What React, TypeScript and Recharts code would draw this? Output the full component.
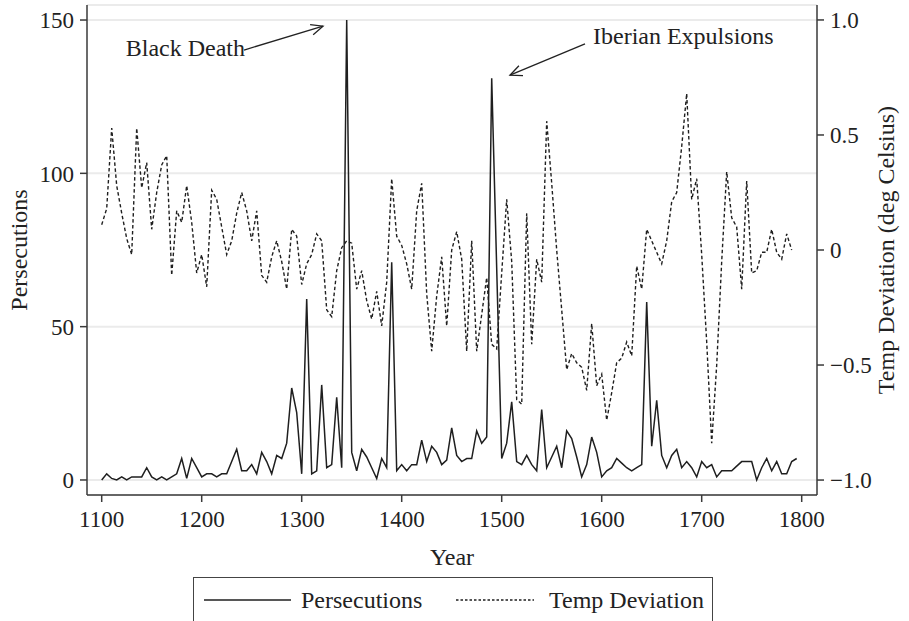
import { CartesianGrid, Line, LineChart, ReferenceLine, XAxis, YAxis } from "recharts";

const YEARS = [
  1100, 1105, 1110, 1115, 1120, 1125, 1130, 1135, 1140, 1145,
  1150, 1155, 1160, 1165, 1170, 1175, 1180, 1185, 1190, 1195,
  1200, 1205, 1210, 1215, 1220, 1225, 1230, 1235, 1240, 1245,
  1250, 1255, 1260, 1265, 1270, 1275, 1280, 1285, 1290, 1295,
  1300, 1305, 1310, 1315, 1320, 1325, 1330, 1335, 1340, 1345,
  1350, 1355, 1360, 1365, 1370, 1375, 1380, 1385, 1390, 1395,
  1400, 1405, 1410, 1415, 1420, 1425, 1430, 1435, 1440, 1445,
  1450, 1455, 1460, 1465, 1470, 1475, 1480, 1485, 1490, 1495,
  1500, 1505, 1510, 1515, 1520, 1525, 1530, 1535, 1540, 1545,
  1550, 1555, 1560, 1565, 1570, 1575, 1580, 1585, 1590, 1595,
  1600, 1605, 1610, 1615, 1620, 1625, 1630, 1635, 1640, 1645,
  1650, 1655, 1660, 1665, 1670, 1675, 1680, 1685, 1690, 1695,
  1700, 1705, 1710, 1715, 1720, 1725, 1730, 1735, 1740, 1745,
  1750, 1755, 1760, 1765, 1770, 1775, 1780, 1785, 1790, 1795,
  1800,
];

const PERSECUTIONS = [
  0, 2, 0.5, 0, 1, 0, 1, 1, 1, 4,
  1, 0, 1, 0, 1, 2, 7, 0.5, 7, 4,
  1, 2, 2, 1, 2, 2, 6, 10, 3, 3,
  5, 2, 9, 6, 2, 8, 7, 12, 30, 22,
  2, 59, 2, 3, 31, 4, 5, 27, 4, 150,
  9, 3, 10, 7.5, 4, 0.5, 7, 4, 71, 3,
  5, 3, 5, 5, 13, 6, 11, 9, 5, 6.5,
  17, 8, 6, 7, 7, 16, 12, 14, 131, 69,
  7, 12, 25.5, 6, 5, 8, 5, 3, 23, 4,
  7.5, 11, 4, 16, 13.5, 7.5, 1, 5, 14, 9,
  1, 3, 4, 7, 5.5, 4, 3, 4, 5, 58,
  11, 26, 8, 4, 8, 10, 4, 6, 4, 1,
  6, 4, 5, 1, 3, 3, 3, 4.5, 6, 6,
  6, 0, 4, 7, 3, 6, 2, 2, 6, 7,
  null,
];

const TEMP_DEV = [
  0.11, 0.18, 0.53, 0.28, 0.16, 0.05, -0.02, 0.53, 0.27, 0.38,
  0.09, 0.25, 0.37, 0.41, -0.11, 0.17, 0.12, 0.28, 0.12, -0.1,
  -0.02, -0.16, 0.26, 0.22, 0.1, -0.02, 0.04, 0.16, 0.25, 0.17,
  0.04, 0.17, -0.11, -0.14, -0.03, 0.04, -0.05, -0.17, 0.09, 0.06,
  -0.15, -0.06, -0.02, 0.07, 0.04, -0.26, -0.29, -0.09, 0.01, 0.04,
  0.03, -0.17, -0.09, -0.22, -0.3, -0.18, -0.33, -0.14, 0.31, 0.06,
  0.02, -0.06, -0.17, 0.17, 0.29, -0.19, -0.44, -0.2, -0.03, -0.33,
  0.0, 0.08, -0.04, -0.44, 0.04, -0.44, -0.28, -0.12, -0.41, -0.43,
  -0.1, 0.22, -0.05, -0.65, -0.67, 0.16, -0.41, -0.04, -0.14, 0.56,
  0.29, 0.0, -0.26, -0.52, -0.45, -0.49, -0.51, -0.61, -0.32, -0.59,
  -0.54, -0.74, -0.62, -0.49, -0.47, -0.4, -0.46, -0.07, -0.17, 0.09,
  0.04, -0.01, -0.06, 0.04, 0.21, 0.25, 0.45, 0.68, 0.22, 0.31,
  -0.02, -0.4, -0.84, -0.5, -0.05, 0.34, 0.14, 0.1, -0.17, 0.3,
  -0.1, -0.09, -0.01, -0.01, 0.09, -0.01, -0.04, 0.07, 0.0, null,
  null,
];

const YEAR_TICKS = [1100, 1200, 1300, 1400, 1500, 1600, 1700, 1800];
const PERSECUTION_TICKS = [0, 50, 100, 150];
const TEMP_TICKS = [-1, -0.5, 0, 0.5, 1];

// annotation arrows, in data units (year, persecutions)
const BLACK_DEATH = [
  { x: 1242.3, y: 140.2 },
  { x: 1321.3, y: 148 },
];
const IBERIAN = [
  { x: 1583.3, y: 142.2 },
  { x: 1508.3, y: 132 },
];

const data = YEARS.map((year, i) => ({
  year,
  persecutions: PERSECUTIONS[i],
  temp: TEMP_DEV[i],
}));

const INK = "#222";
const FONT = "'Liberation Serif', 'Times New Roman', serif";
const TITLE_SIZE = 24;
const TICK_SIZE = 23;

const fmtTemp = (v: number) => {
  if (v === 0) return "0";
  const s = Math.abs(v).toFixed(1);
  return v < 0 ? `\u2212${s}` : s;
};

function arrowShape(label: string, side: "left" | "right") {
  return (props: any) => {
    const { x1, y1, x2, y2 } = props;
    const ang = Math.atan2(y2 - y1, x2 - x1);
    const len = 13;
    const spread = 0.42;
    const h1x = x2 - len * Math.cos(ang - spread);
    const h1y = y2 - len * Math.sin(ang - spread);
    const h2x = x2 - len * Math.cos(ang + spread);
    const h2y = y2 - len * Math.sin(ang + spread);
    return (
      <g>
        <line x1={x1} y1={y1} x2={x2} y2={y2} stroke={INK} strokeWidth={1.3} />
        <polyline
          points={`${h1x},${h1y} ${x2},${y2} ${h2x},${h2y}`}
          fill="none"
          stroke={INK}
          strokeWidth={1.3}
        />
        {side === "left" ? (
          <text x={x1 + 1} y={y1 + 6} textAnchor="end" fill={INK} fontSize={TITLE_SIZE} fontFamily={FONT}>
            {label}
          </text>
        ) : (
          <text x={x1 + 8} y={y1} textAnchor="start" fill={INK} fontSize={TITLE_SIZE} fontFamily={FONT}>
            {label}
          </text>
        )}
      </g>
    );
  };
}

export default function App() {
  const tickStyle = { fill: INK, fontSize: TICK_SIZE, fontFamily: FONT };
  const axisLine = { stroke: "#3a3a3a", strokeWidth: 1.5 };

  return (
    <div style={{ position: "absolute", left: 0, top: 0, width: 909, height: 621, background: "#fff", fontFamily: FONT }}>
      <LineChart
        width={909}
        height={621}
        data={data}
        margin={{ top: 5, right: 0, bottom: 56, left: 0 }}
      >
        <CartesianGrid yAxisId="p" vertical={false} stroke="#ebebeb" strokeWidth={2} />
        <XAxis
          dataKey="year"
          type="number"
          domain={[1085.3, 1815.3]}
          ticks={YEAR_TICKS}
          allowDataOverflow
          height={70}
          tickSize={7}
          tickMargin={9}
          axisLine={axisLine}
          tickLine={axisLine}
          tick={tickStyle}
          label={{ value: "Year", position: "insideBottom", offset: 0, fill: INK, fontSize: TITLE_SIZE, fontFamily: FONT }}
        />
        <YAxis
          yAxisId="p"
          type="number"
          domain={[-4.9, 154.9]}
          ticks={PERSECUTION_TICKS}
          allowDataOverflow
          width={87}
          tickSize={7}
          tickMargin={6}
          axisLine={axisLine}
          tickLine={axisLine}
          tick={tickStyle}
          label={{
            value: "Persecutions",
            angle: -90,
            position: "insideLeft",
            offset: 18,
            fill: INK,
            fontSize: TITLE_SIZE,
            fontFamily: FONT,
            style: { textAnchor: "middle" },
          }}
        />
        <YAxis
          yAxisId="t"
          orientation="right"
          type="number"
          domain={[-1.065, 1.065]}
          ticks={TEMP_TICKS}
          allowDataOverflow
          width={92}
          tickSize={7}
          tickMargin={6}
          axisLine={axisLine}
          tickLine={axisLine}
          tick={tickStyle}
          tickFormatter={fmtTemp}
          label={{
            value: "Temp Deviation (deg Celsius)",
            angle: -90,
            position: "insideRight",
            offset: 24,
            fill: INK,
            fontSize: TITLE_SIZE,
            fontFamily: FONT,
            style: { textAnchor: "middle" },
          }}
        />
        <Line
          yAxisId="t"
          dataKey="temp"
          type="linear"
          stroke="#1f1f1f"
          strokeWidth={1.4}
          strokeDasharray="3.5 2.5"
          dot={false}
          activeDot={false}
          isAnimationActive={false}
        />
        <Line
          yAxisId="p"
          dataKey="persecutions"
          type="linear"
          stroke="#1f1f1f"
          strokeWidth={1.5}
          dot={false}
          activeDot={false}
          isAnimationActive={false}
        />
        <ReferenceLine
          yAxisId="p"
          segment={BLACK_DEATH}
          shape={arrowShape("Black Death", "left")}
        />
        <ReferenceLine
          yAxisId="p"
          segment={IBERIAN}
          shape={arrowShape("Iberian Expulsions", "right")}
        />
      </LineChart>

      <div
        style={{
          position: "absolute",
          left: 193,
          top: 577,
          width: 520,
          height: 60,
          border: "1px solid #444",
          boxSizing: "border-box",
        }}
      >
        <svg width={520} height={44} style={{ position: "absolute", left: 0, top: 0 }}>
          <line x1={10} y1={22} x2={97} y2={22} stroke="#1f1f1f" strokeWidth={1.5} />
          <text x={107} y={30} fill={INK} fontSize={TITLE_SIZE} fontFamily={FONT}>
            Persecutions
          </text>
          <line x1={262} y1={22} x2={340} y2={22} stroke="#1f1f1f" strokeWidth={1.3} strokeDasharray="2.5 2" />
          <text x={355} y={30} fill={INK} fontSize={TITLE_SIZE} fontFamily={FONT}>
            Temp Deviation
          </text>
        </svg>
      </div>
    </div>
  );
}
